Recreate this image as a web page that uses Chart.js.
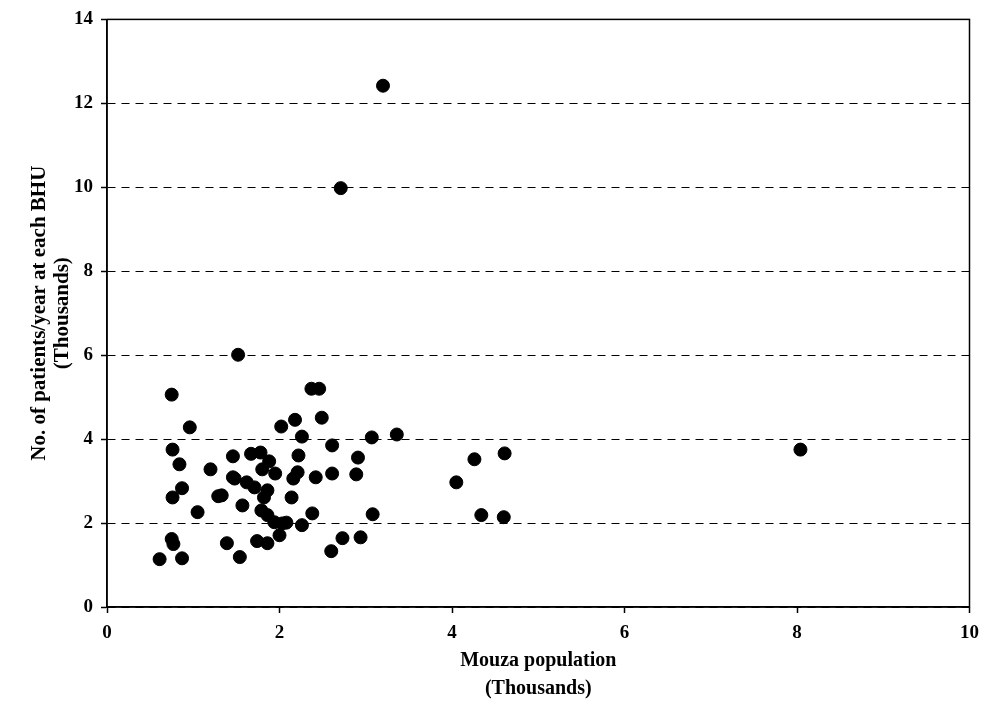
<!DOCTYPE html>
<html>
<head>
<meta charset="utf-8">
<script src="https://cdn.jsdelivr.net/npm/chart.js@4.4.1/dist/chart.umd.min.js"></script>
<style>
  html, body { margin: 0; padding: 0; background: #fff; }
  #wrap { width: 988px; height: 707px; }
</style>
</head>
<body>
<div id="wrap"><canvas id="c" width="988" height="707"></canvas></div>
<script>
// Mouza population (thousands)
const population = [
  3.20, 2.71, 1.52, 0.75, 2.37, 2.46, 0.96, 0.76, 0.84, 0.76,
  0.87, 0.61, 0.75, 0.77, 0.87, 1.39, 1.05, 1.29, 1.20, 1.46,
  1.46, 2.18, 2.02, 2.26, 1.67, 1.78, 1.88, 1.80, 1.95, 2.22,
  2.21, 2.16, 1.48, 1.62, 1.71, 1.86, 1.82, 2.14, 2.42, 1.33,
  1.57, 1.79, 1.86, 1.94, 2.03, 2.08, 2.00, 2.26, 2.38, 1.74,
  1.86, 1.54, 2.49, 2.61, 3.07, 3.36, 2.91, 2.61, 2.89, 3.08,
  2.73, 2.94, 2.60, 4.26, 4.61, 4.05, 4.34, 4.60, 8.04
];
// patients per year at each BHU (thousands)
const patients = [
  12.42, 9.98, 6.01, 5.06, 5.20, 5.20, 4.28, 3.75, 3.40, 2.61,
  2.83, 1.14, 1.62, 1.50, 1.16, 1.52, 2.26, 2.64, 3.28, 3.59,
  3.09, 4.46, 4.30, 4.06, 3.65, 3.68, 3.47, 3.28, 3.18, 3.61,
  3.21, 3.06, 3.06, 2.97, 2.85, 2.78, 2.61, 2.61, 3.09, 2.66,
  2.42, 2.30, 2.19, 2.02, 1.99, 2.01, 1.71, 1.95, 2.23, 1.57,
  1.52, 1.19, 4.51, 3.85, 4.04, 4.11, 3.56, 3.18, 3.16, 2.21,
  1.64, 1.66, 1.33, 3.52, 3.66, 2.97, 2.19, 2.14, 3.75
];

const xTitle = ["Mouza population", "(Thousands)"];
const yTitle = ["No. of patients/year at each BHU", "(Thousands)"];

const points = population.map((x, i) => ({ x: x, y: patients[i] }));

const serif = "'Liberation Serif', 'DejaVu Serif', serif";

// solid frame round the plot area
const frame = {
  id: "frame",
  afterDraw(chart) {
    const a = chart.chartArea;
    const ctx = chart.ctx;
    ctx.save();
    ctx.strokeStyle = "#000";
    ctx.lineWidth = 1.5;
    ctx.strokeRect(a.left, a.top, a.right - a.left, a.bottom - a.top);
    ctx.restore();
  }
};

new Chart(document.getElementById("c"), {
  type: "scatter",
  data: {
    datasets: [{
      data: points,
      backgroundColor: "#000",
      borderColor: "#000",
      pointRadius: 6.5,
      pointHoverRadius: 6.5
    }]
  },
  options: {
    responsive: false,
    animation: false,
    layout: { padding: { top: 17, right: 13, left: 0, bottom: 0 } },
    plugins: { legend: { display: false }, tooltip: { enabled: false } },
    scales: {
      x: {
        type: "linear",
        min: 0, max: 10,
        afterFit(scale) { scale.height = 100; },
        ticks: { stepSize: 2, color: "#000", font: { family: serif, size: 19, weight: "bold" }, padding: 9 },
        grid: { drawOnChartArea: false, drawTicks: true, tickLength: 6, tickColor: "#000", tickWidth: 1.5 },
        border: { color: "#000", width: 1.5 },
        title: { display: true, text: xTitle, color: "#000", font: { family: serif, size: 20, weight: "bold", lineHeight: 1.4 }, padding: { top: 0, bottom: 4 } }
      },
      y: {
        min: 0, max: 14,
        afterFit(scale) { scale.width = 107; },
        ticks: { stepSize: 2, color: "#000", font: { family: serif, size: 19, weight: "bold" }, padding: 8 },
        grid: { color: "#000", lineWidth: 1, tickLength: 6, tickColor: "#000", tickWidth: 1.5, tickBorderDash: [] },
        border: { color: "#000", width: 1.5, dash: [8, 6] },
        title: { display: true, text: yTitle, color: "#000", font: { family: serif, size: 21, weight: "bold", lineHeight: 1.1 }, padding: { top: 28, bottom: 0 } }
      }
    }
  },
  plugins: [frame]
});
</script>
</body>
</html>
